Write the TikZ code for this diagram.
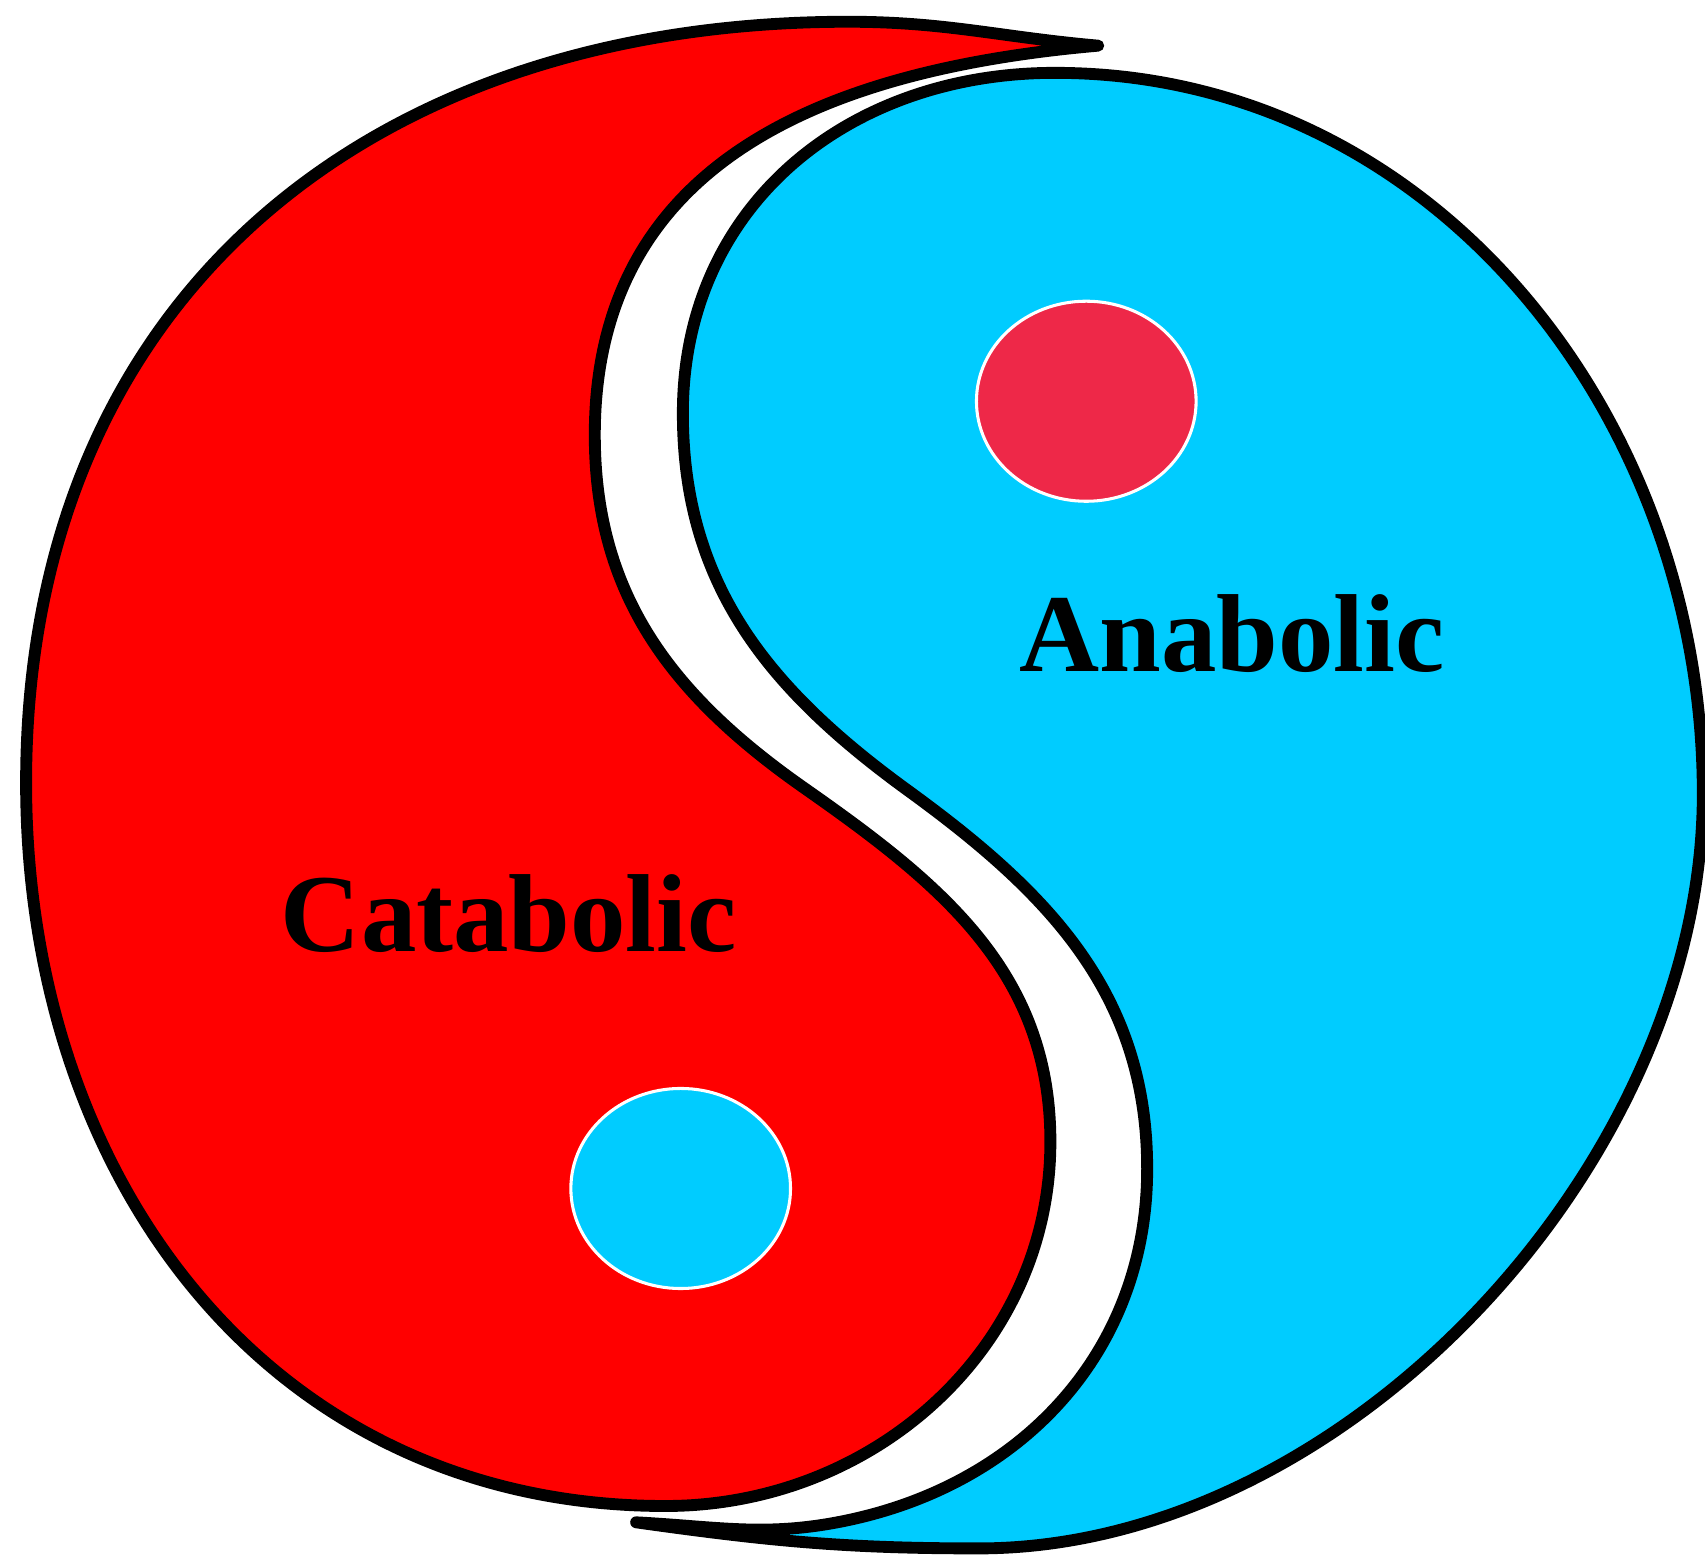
\documentclass[tikz,border=0pt]{standalone}
\usepackage{fontspec}
\setmainfont{Liberation Serif}
\usepackage{xcolor}
\usepackage{tikz}

\definecolor{catared}{RGB}{255,0,0}
\definecolor{anablue}{RGB}{0,204,255}
\definecolor{dotred}{RGB}{238,40,72}

\begin{document}
\begin{tikzpicture}[x=0.01cm, y=0.01cm,
    half/.style={draw=black, line width=3.1pt, line join=round},
    eye/.style={draw=white, line width=0.8pt},
    word/.style={anchor=base, font=\bfseries\fontsize{29}{32}\selectfont}]
    \useasboundingbox (0,0) rectangle (1568,1432);

    % catabolic half
    \filldraw[half, fill=catared] (1010,1390)
        to[out=175, in=0] (780,1412)
        to[out=180, in=90, looseness=1.1] (24,712)
        to[out=-90, in=180, looseness=1.05] (612,47)
        to[out=0, in=-90] (966,382)
        to[out=90, in=-35] (740,707)
        to[out=145, in=-90] (547,1032)
        to[out=90, in=185, looseness=1.1] (1010,1390) -- cycle;

    % anabolic half
    \filldraw[half, fill=anablue] (585,32)
        to[out=-3, in=192] (780,34)
        to[out=12, in=-90] (1055,357)
        to[out=90, in=-36] (835,705)
        to[out=144, in=-90] (628,1052)
        to[out=90, in=180, looseness=1.05] (970,1365)
        to[out=0, in=90] (1566,702)
        to[out=-90, in=0, looseness=0.9] (900,8)
        to[out=180, in=-8] (585,32) -- cycle;

    % the two dots
    \filldraw[eye, fill=dotred] (999,1063) ellipse [x radius=101, y radius=92];
    \filldraw[eye, fill=anablue] (626,339) ellipse [x radius=101, y radius=92];

    \node[word] (ana) at (1133,814) {Anabolic};
    \node[word] (cata) at (468,557) {Catabolic};
\end{tikzpicture}
\end{document}
